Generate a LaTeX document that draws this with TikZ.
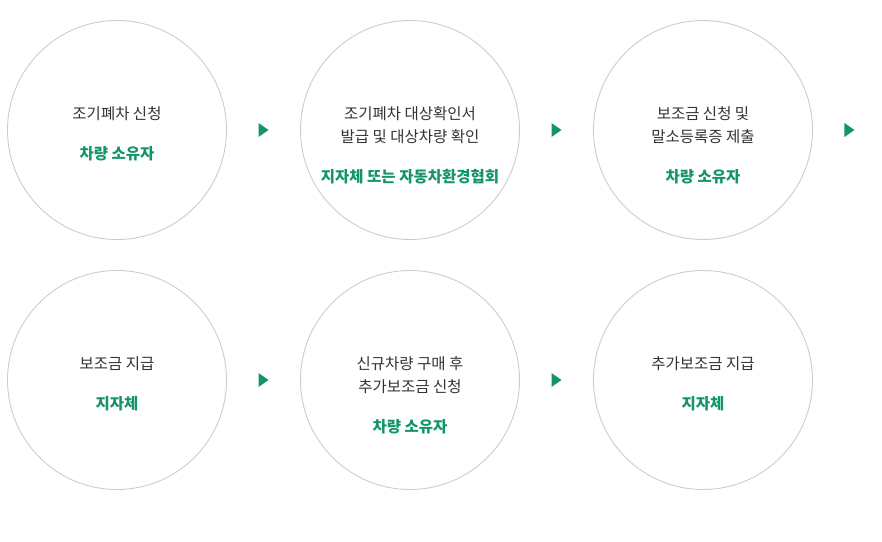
\documentclass[tikz,border=0pt]{standalone}
\usepackage{fontspec}
\setmainfont{Noto Sans CJK KR}
\usetikzlibrary{positioning}
\definecolor{ringgray}{HTML}{CCCCCC}
\definecolor{textdark}{HTML}{333333}
\definecolor{ecogreen}{HTML}{13946A}
\tikzset{
  stepring/.style={circle, draw=ringgray, line width=0.9pt, minimum size=219pt, inner sep=0pt},
  desc/.style={anchor=north, align=center, inner sep=0pt, text=textdark,
    font=\fontsize{15.5pt}{23.5pt}\selectfont},
  who/.style={inner sep=0pt, text=ecogreen, font=\fontsize{15.5pt}{23.5pt}\selectfont\bfseries},
  go/.pic={code={%
      \fill [ecogreen] (-5,-7) -- (5,0) -- (-5,7) -- cycle;
  }}
}
\begin{document}
\begin{tikzpicture}[x=1pt, y=-1pt]
    % page frame
    \useasboundingbox (0,0) rectangle (882,541);
    % steps
    \node (s1) [stepring] at (117,130) {};
    \node (s2) [stepring] at (410,130) {};
    \node (s3) [stepring] at (703,130) {};
    \node (s4) [stepring] at (117,380) {};
    \node (s5) [stepring] at (410,380) {};
    \node (s6) [stepring] at (703,380) {};
    % add texts
    \node (d1) [desc] at ([yshift=24pt]s1.center) {조기폐차 신청};
    \node (d2) [desc] at ([yshift=24pt]s2.center) {조기폐차 대상확인서\\발급 및 대상차량 확인};
    \node (d3) [desc] at ([yshift=24pt]s3.center) {보조금 신청 및\\말소등록증 제출};
    \node (d4) [desc] at ([yshift=24pt]s4.center) {보조금 지급};
    \node (d5) [desc] at ([yshift=24pt]s5.center) {신규차량 구매 후\\추가보조금 신청};
    \node (d6) [desc] at ([yshift=24pt]s6.center) {추가보조금 지급};
    \node (w1) [who, below=25.5pt of d1] {차량 소유자};
    \node (w2) [who, below=25.5pt of d2] {지자체 또는 자동차환경협회};
    \node (w3) [who, below=25.5pt of d3] {차량 소유자};
    \node (w4) [who, below=25.5pt of d4] {지자체};
    \node (w5) [who, below=25.5pt of d5] {차량 소유자};
    \node (w6) [who, below=25.5pt of d6] {지자체};
    % arrows between steps
    \coordinate (e3) at (886,130);
    \path (s1.east) -- (s2.west) coordinate [midway] (a1);
    \path (s2.east) -- (s3.west) coordinate [midway] (a2);
    \path (s3.east) -- (e3) coordinate [midway] (a3);
    \path (s4.east) -- (s5.west) coordinate [midway] (a4);
    \path (s5.east) -- (s6.west) coordinate [midway] (a5);
    \foreach \a in {a1,a2,a3,a4,a5}
      \pic at (\a) {go};
\end{tikzpicture}
\end{document}
